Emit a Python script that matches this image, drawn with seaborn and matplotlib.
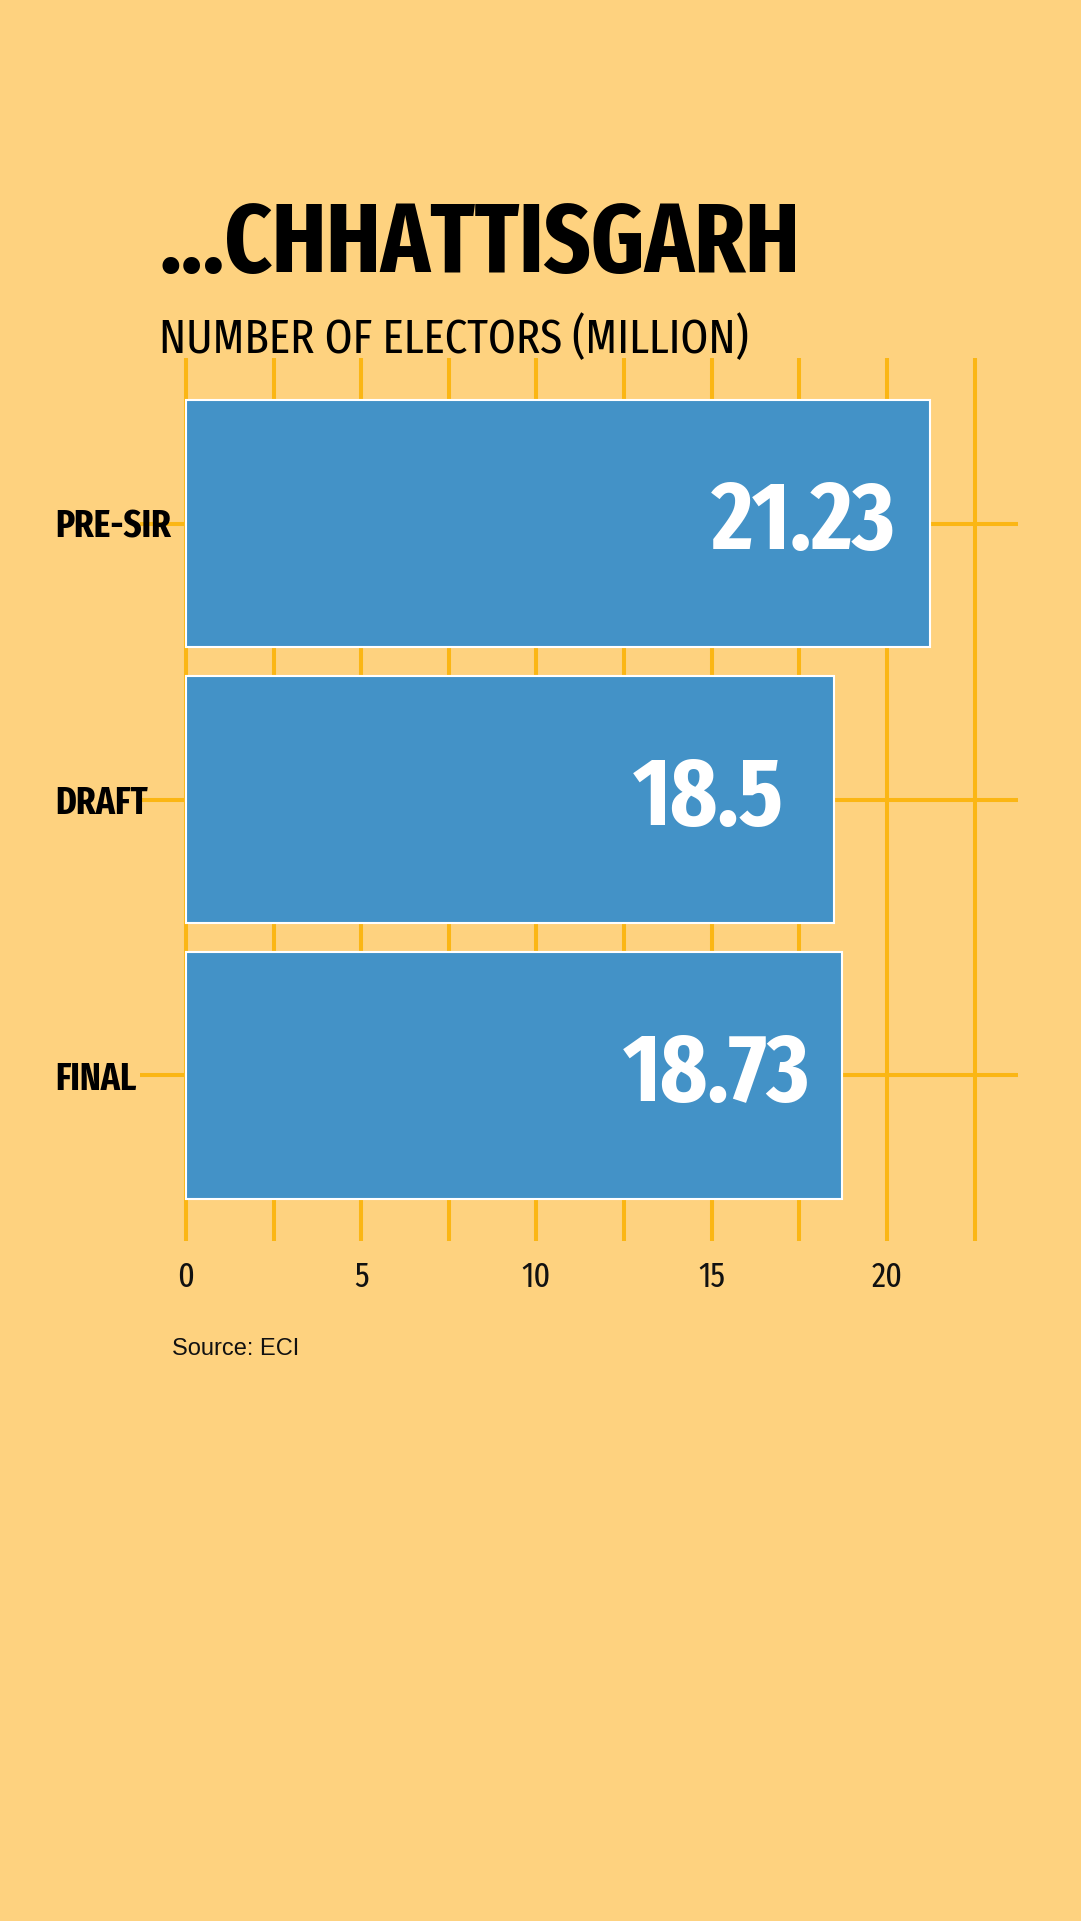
import numpy as np
import matplotlib
matplotlib.use("Agg")
import matplotlib.pyplot as plt
from matplotlib import font_manager as fm
import seaborn as sns

# ---- data ----
categories = ["PRE-SIR", "DRAFT", "FINAL"]
values = [21.23, 18.5, 18.73]
value_labels = ["21.23", "18.5", "18.73"]
major_ticks = [0, 5, 10, 15, 20]
major_tick_labels = ["0", "5", "10", "15", "20"]
minor_ticks = [2.5, 7.5, 12.5, 17.5, 22.5]
title = "...CHHATTISGARH"
subtitle = "NUMBER OF ELECTORS (MILLION)"
source = "Source: ECI"

# ---- style ----
BG = "#FED27F"
GRID = "#FBB614"
BAR = "#4392C7"

names = {f.name for f in fm.fontManager.ttflist}
COND = None
for cand in ["Fira Sans Extra Condensed", "Fira Sans Condensed", "Barlow Condensed"]:
    if cand in names:
        COND = cand
        break
if COND is not None:
    FAM = [COND, "DejaVu Sans"]
    STRETCH = "normal"
    k = 1.0
else:
    FAM = ["DejaVu Sans"]
    STRETCH = "condensed"
    k = 0.75

fig = plt.figure(figsize=(10.81, 19.21), dpi=100, facecolor=BG)
ax = fig.add_axes([140 / 1081, 1 - 1241 / 1921, (1018 - 140) / 1081, (1241 - 358) / 1921])
ax.set_facecolor(BG)

sns.barplot(x=values, y=categories, orient="h", color=BAR, saturation=1,
            width=0.892, edgecolor="white", linewidth=1.5, ax=ax, zorder=3)

ax.set_xlim(-1.31, 23.74)
ax.set_ylim(2.6, -0.6)
ax.set_axisbelow(True)

ax.set_xticks(major_ticks)
ax.set_xticklabels(major_tick_labels)
ax.set_xticks(minor_ticks, minor=True)
ax.xaxis.grid(True, which="both", color=GRID, linewidth=2.9)
ax.yaxis.grid(True, color=GRID, linewidth=2.9)
ax.tick_params(axis="both", which="both", length=0)
ax.tick_params(axis="x", pad=14)
ax.tick_params(axis="y", pad=61)
for lab in ax.get_xticklabels():
    lab.set_family(FAM)
    lab.set_fontstretch(STRETCH)
    lab.set_fontweight("normal")
    lab.set_fontsize(25 * k)
    lab.set_color("#111111")
for lab in ax.get_yticklabels():
    lab.set_family(FAM)
    lab.set_fontstretch(STRETCH)
    lab.set_fontweight("bold")
    lab.set_fontsize(27.5 * k)
    lab.set_ha("left")
    lab.set_color("#000000")
ax.set_xlabel("")
ax.set_ylabel("")
for s in ax.spines.values():
    s.set_visible(False)

# value labels inside bars
for i, (v, t) in enumerate(zip(values, value_labels)):
    ax.text(v - 3.60, i, t, ha="center", va="center", color="white",
            family=FAM, fontstretch=STRETCH, fontweight="bold",
            fontsize=70 * k, zorder=5)

fig.text(159 / 1081, 1 - 272 / 1921, title, ha="left", va="baseline",
         family=FAM, fontstretch=STRETCH, fontweight="bold",
         fontsize=71 * k, color="#000000")
fig.text(159 / 1081, 1 - 353 / 1921, subtitle, ha="left", va="baseline",
         family=FAM, fontstretch=STRETCH, fontweight="normal",
         fontsize=35 * k, color="#000000")
fig.text(172 / 1081, 1 - 1355 / 1921, source, ha="left", va="baseline",
         family=["Liberation Sans", "DejaVu Sans"], fontsize=17, color="#111111")

fig.savefig("out.png", dpi=100, facecolor=BG)
